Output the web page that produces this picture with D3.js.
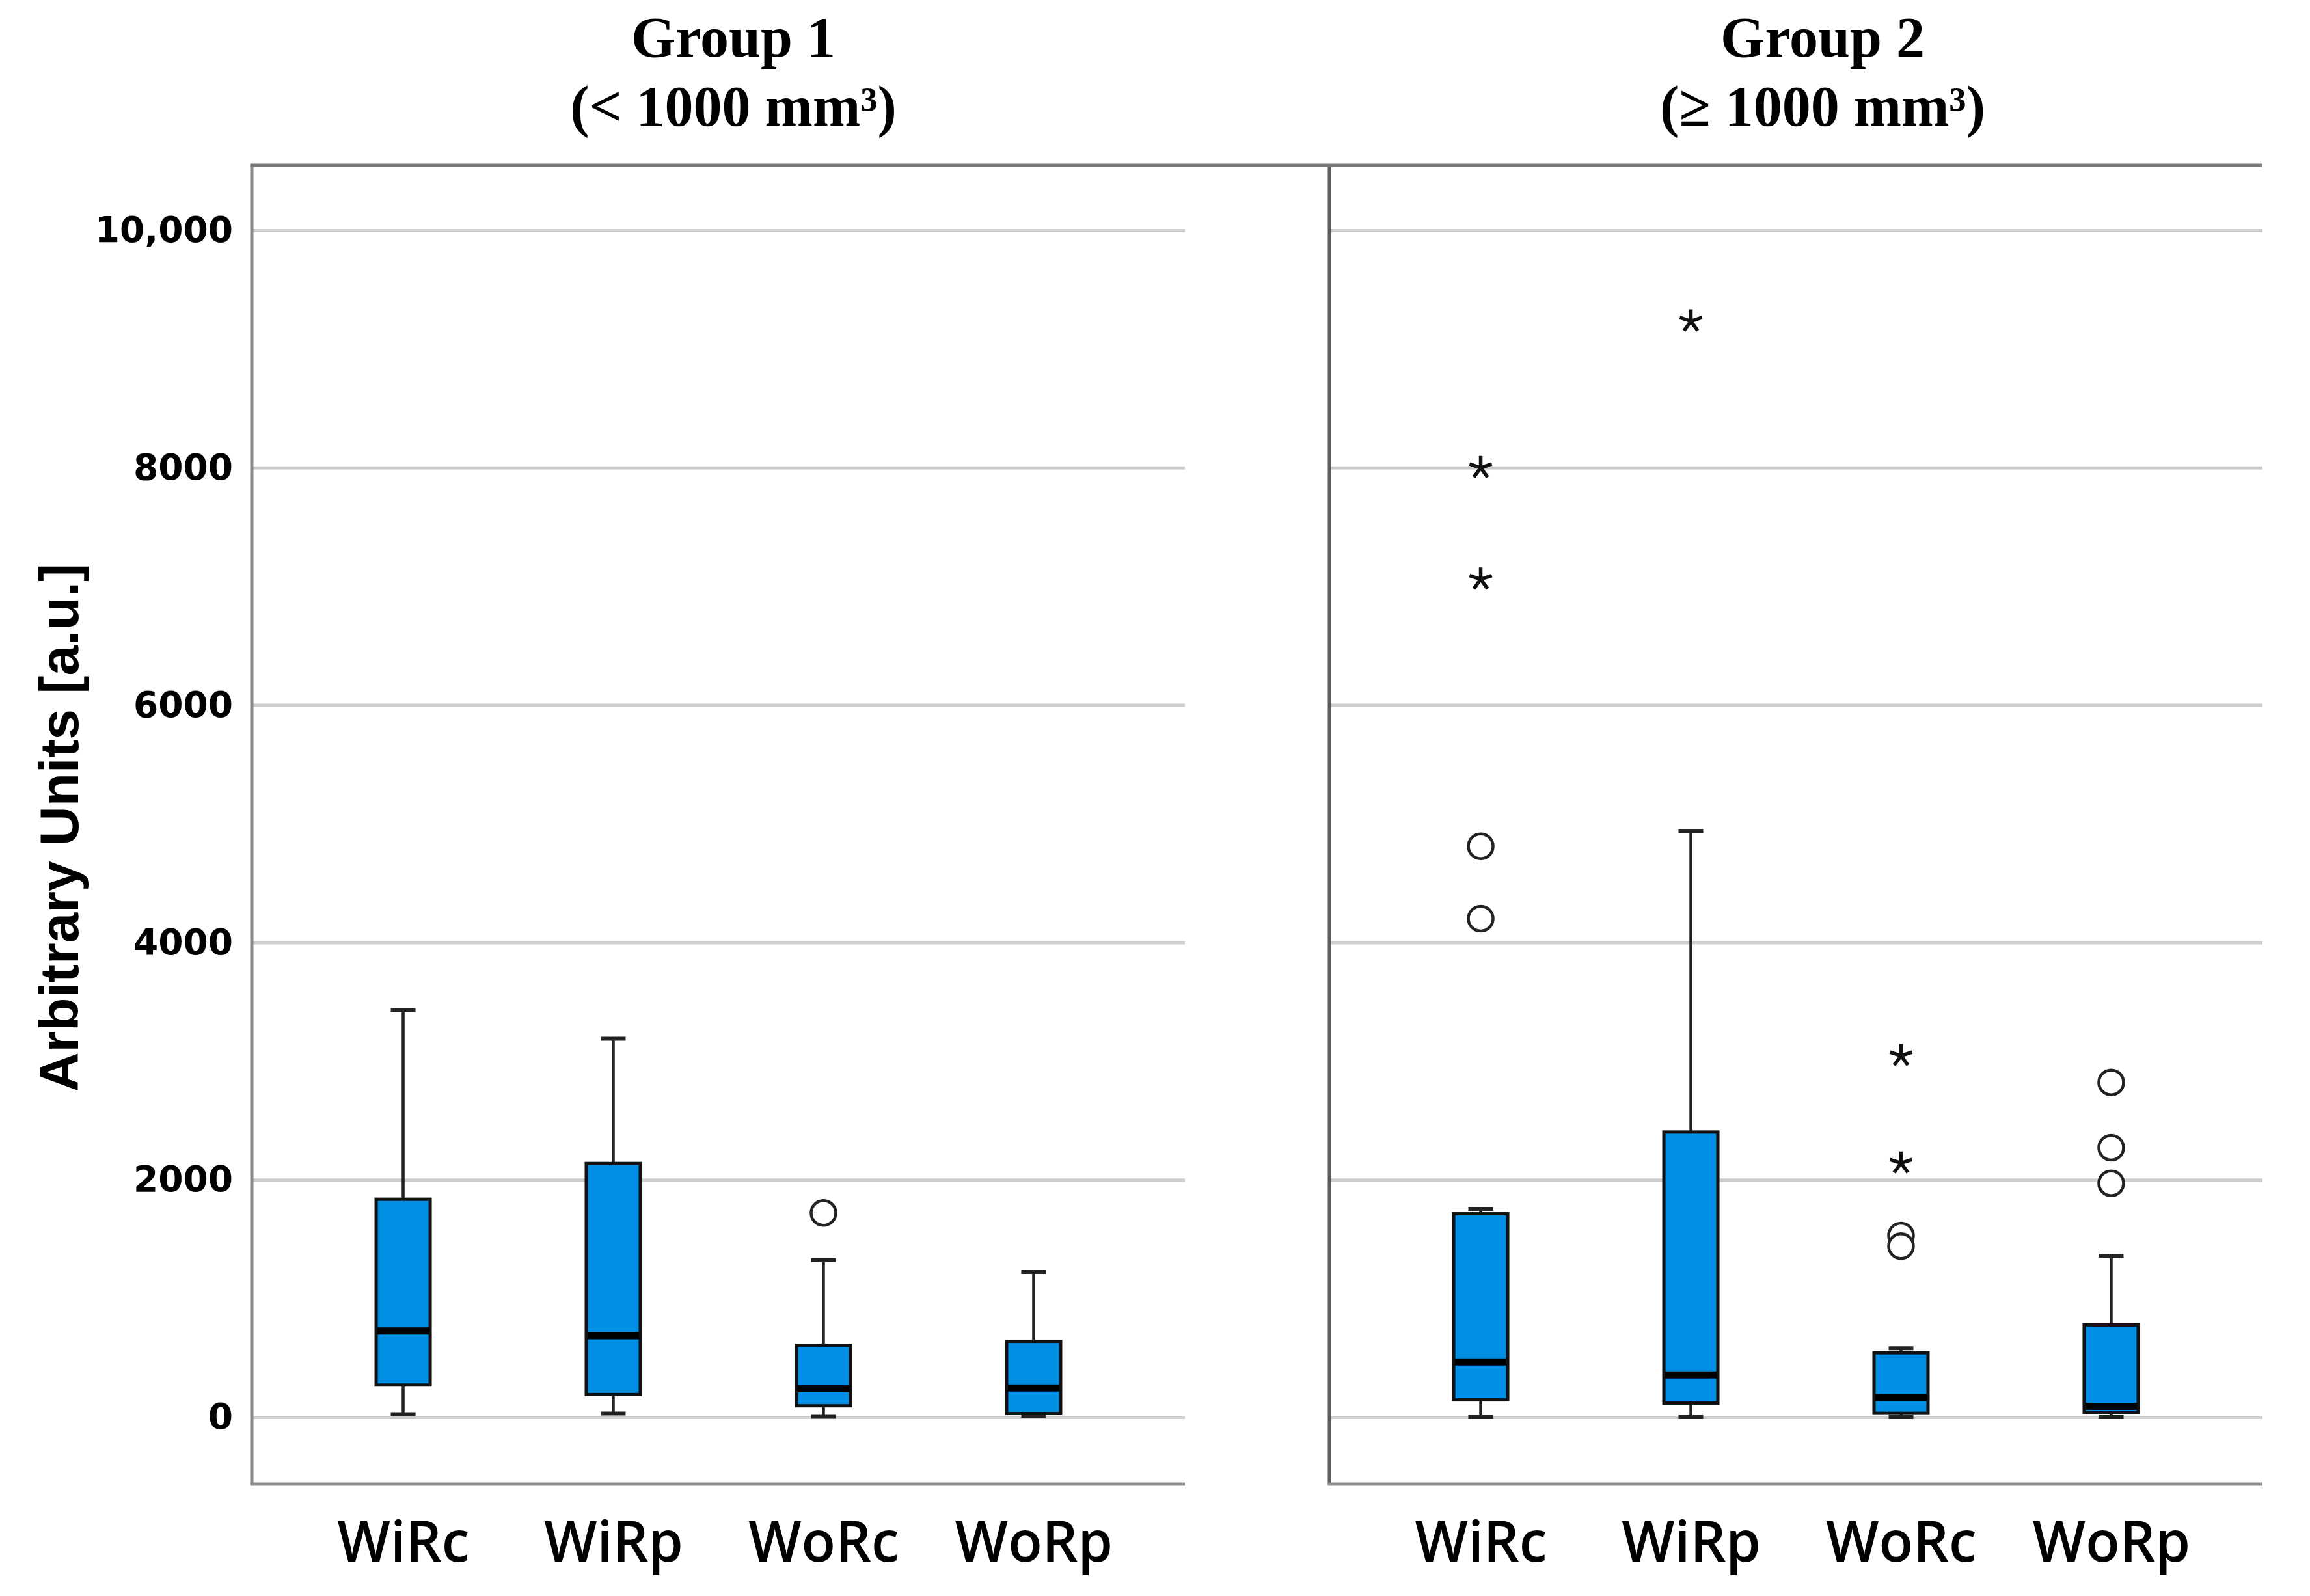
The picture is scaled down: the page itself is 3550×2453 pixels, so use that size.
<!DOCTYPE html>
<html>
<head>
<meta charset="utf-8">
<script src="https://cdn.jsdelivr.net/npm/d3@7/dist/d3.min.js"></script>
<style>
  html, body { margin: 0; padding: 0; background: #ffffff; }
  svg { display: block; }
</style>
</head>
<body>
<script>
// ---------------- DATA ----------------
const categories = ["WiRc", "WiRp", "WoRc", "WoRp"];
const yTickValues = [0, 2000, 4000, 6000, 8000, 10000];
const yTickLabels = ["0", "2000", "4000", "6000", "8000", "10,000"];
const panelTitles = ["Group 1", "Group 2"];
const panelSubtitles = ["(< 1000 mm\u00B3)", "(\u2265 1000 mm\u00B3)"];
const yAxisTitle = "Arbitrary Units [a.u.]";

// box statistics per category: [min, q1, median, q3, max]
const group1Stats = [
  [25, 270, 725, 1836, 3430],
  [30, 190, 685, 2137, 3188],
  [3, 95, 238, 605, 1322],
  [10, 30, 245, 638, 1222]
];
const group1Circles = [[], [], [1720], []];
const group1Stars = [[], [], [], []];

const group2Stats = [
  [0, 145, 465, 1713, 1755],
  [0, 118, 355, 2402, 4940],
  [0, 32, 165, 542, 580],
  [0, 37, 90, 776, 1360]
];
const group2Circles = [[4810, 4200], [], [1530, 1440], [2820, 2270, 1970]];
const group2Stars = [[8000, 7060], [9235], [3045, 2140], []];

// ---------------- LAYOUT ----------------
const W = 3550, H = 2453;
const plotTop = 254, plotBottom = 2281;
const panels = [
  { x0: 387, x1: 1821, titleX: 1127, stats: group1Stats, circles: group1Circles, stars: group1Stars, axisColor: "#8c8c8c" },
  { x0: 2043, x1: 3477, titleX: 2801, stats: group2Stats, circles: group2Circles, stars: group2Stars, axisColor: "#5a5a5a" }
];
const boxW = 83, capW = 38;
const boxFill = "#008fe5";

const svg = d3.select("body").append("svg")
  .attr("width", W).attr("height", H)
  .attr("viewBox", `0 0 ${W} ${H}`);

svg.append("rect").attr("width", W).attr("height", H).attr("fill", "#fff");

const y = d3.scaleLinear().domain([0, 10000]).range([2178, 354]);

// custom 5-arm asterisk symbol
const asterisk = {
  draw(ctx, size) {
    const r = Math.sqrt(size);
    for (let k = 0; k < 5; k++) {
      const a = -Math.PI / 2 + k * 2 * Math.PI / 5;
      ctx.moveTo(0, 0);
      ctx.lineTo(r * Math.cos(a), r * Math.sin(a));
    }
  }
};

panels.forEach((p, pi) => {
  const g = svg.append("g");
  const x = d3.scalePoint().domain(categories).range([p.x0, p.x1]).padding(0.72);

  // gridlines
  const grid = g.append("g").attr("transform", `translate(${p.x0},0)`)
    .call(d3.axisLeft(y).tickValues(yTickValues).tickSize(-(p.x1 - p.x0)).tickFormat(""));
  grid.select(".domain").remove();
  grid.selectAll(".tick line").attr("stroke", "#cdcdcd").attr("stroke-width", 5);

  // panel frame: left axis and bottom line
  g.append("line").attr("x1", p.x0).attr("x2", p.x0).attr("y1", plotTop).attr("y2", plotBottom)
    .attr("stroke", p.axisColor).attr("stroke-width", 5);
  g.append("line").attr("x1", p.x0 - 2.5).attr("x2", p.x1).attr("y1", plotBottom).attr("y2", plotBottom)
    .attr("stroke", "#8c8c8c").attr("stroke-width", 5);

  // x axis labels
  const xa = g.append("g").attr("transform", `translate(0,${plotBottom})`)
    .call(d3.axisBottom(x).tickSize(0));
  xa.select(".domain").remove();
  xa.selectAll("text")
    .attr("y", 119).attr("dy", null)
    .attr("fill", "#000")
    .style("font-family", "'Open Sans', 'Noto Sans', sans-serif")
    .style("font-size", "86px")
    .style("font-weight", "600");

  // titles
  g.append("text").attr("x", p.titleX).attr("y", 87).attr("text-anchor", "middle")
    .style("font-family", "'Liberation Serif', 'Times New Roman', serif")
    .style("font-weight", "bold").style("font-size", "88px").text(panelTitles[pi]);
  g.append("text").attr("x", p.titleX).attr("y", 193).attr("text-anchor", "middle")
    .style("font-family", "'Liberation Serif', 'Times New Roman', serif")
    .style("font-weight", "bold").style("font-size", "88px").text(panelSubtitles[pi]);

  // boxes
  const items = categories.map((c, i) => ({ c, s: p.stats[i], circ: p.circles[i], star: p.stars[i] }));
  const bx = g.selectAll("g.box").data(items).enter().append("g").attr("class", "box");

  // whiskers
  bx.append("line").attr("x1", d => x(d.c)).attr("x2", d => x(d.c))
    .attr("y1", d => y(d.s[4])).attr("y2", d => y(d.s[3]))
    .attr("stroke", "#222").attr("stroke-width", 4.5);
  bx.append("line").attr("x1", d => x(d.c)).attr("x2", d => x(d.c))
    .attr("y1", d => y(d.s[1])).attr("y2", d => y(d.s[0]))
    .attr("stroke", "#222").attr("stroke-width", 4.5);
  // caps
  bx.append("line").attr("x1", d => x(d.c) - capW / 2).attr("x2", d => x(d.c) + capW / 2)
    .attr("y1", d => y(d.s[4])).attr("y2", d => y(d.s[4]))
    .attr("stroke", "#222").attr("stroke-width", 6);
  bx.append("line").attr("x1", d => x(d.c) - capW / 2).attr("x2", d => x(d.c) + capW / 2)
    .attr("y1", d => y(d.s[0])).attr("y2", d => y(d.s[0]))
    .attr("stroke", "#222").attr("stroke-width", 6);
  // box
  bx.append("rect").attr("x", d => x(d.c) - boxW / 2).attr("width", boxW)
    .attr("y", d => y(d.s[3])).attr("height", d => y(d.s[1]) - y(d.s[3]))
    .attr("fill", boxFill).attr("stroke", "#111").attr("stroke-width", 5);
  // median
  bx.append("line").attr("x1", d => x(d.c) - boxW / 2 + 2).attr("x2", d => x(d.c) + boxW / 2 - 2)
    .attr("y1", d => y(d.s[2])).attr("y2", d => y(d.s[2]))
    .attr("stroke", "#000").attr("stroke-width", 11);

  // outlier circles and extreme stars
  bx.each(function (d) {
    const gg = d3.select(this);
    gg.selectAll("circle.o").data(d.circ).enter().append("circle").attr("class", "o")
      .attr("cx", x(d.c)).attr("cy", v => y(v)).attr("r", 19)
      .attr("fill", "#fff").attr("stroke", "#222").attr("stroke-width", 4.5);
    gg.selectAll("path.s").data(d.star).enter().append("path").attr("class", "s")
      .attr("transform", v => `translate(${x(d.c)},${y(v)})`)
      .attr("d", d3.symbol().type(asterisk).size(18 * 18))
      .attr("fill", "none").attr("stroke", "#111").attr("stroke-width", 5.5);
  });
});

// top border spanning both panels
svg.append("line").attr("x1", panels[0].x0 - 2.5).attr("x2", panels[1].x1).attr("y1", plotTop).attr("y2", plotTop)
  .attr("stroke", "#7a7a7a").attr("stroke-width", 5);

// y axis labels (left panel only)
const ya = svg.append("g").attr("transform", `translate(${panels[0].x0},0)`)
  .call(d3.axisLeft(y).tickValues(yTickValues).tickSize(0).tickPadding(29)
    .tickFormat((v, i) => yTickLabels[i]));
ya.select(".domain").remove();
ya.selectAll("text").attr("fill", "#000")
  .style("font-family", "'DejaVu Sans', sans-serif")
  .style("font-weight", "bold").style("font-size", "55px");

// y axis title
svg.append("text")
  .attr("transform", "translate(120,1272) rotate(-90)")
  .attr("text-anchor", "middle")
  .style("font-family", "'Liberation Sans', Arial, sans-serif")
  .style("font-weight", "bold").style("font-size", "84px")
  .text(yAxisTitle);
</script>
</body>
</html>
